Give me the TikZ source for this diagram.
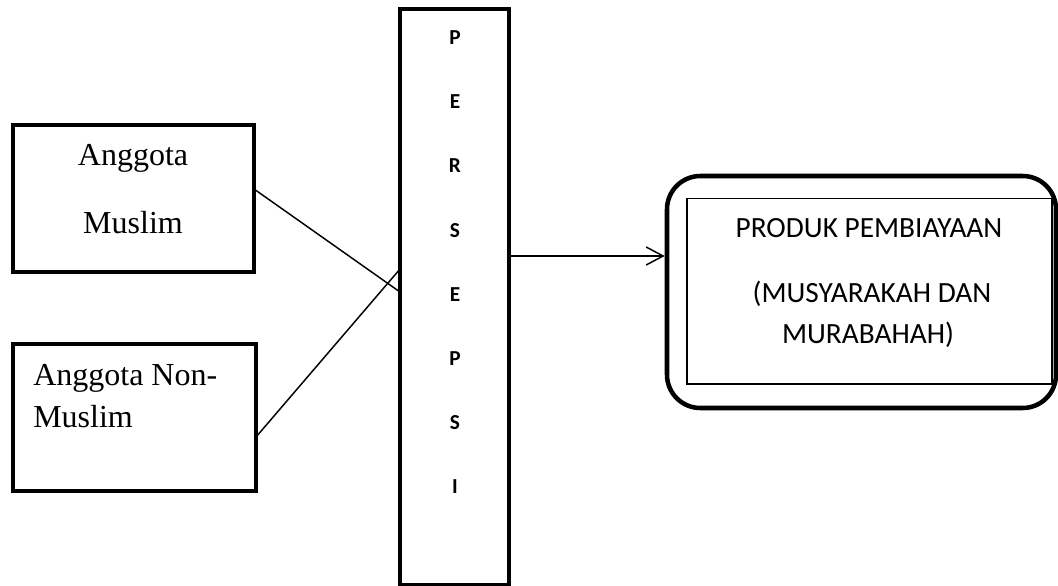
\documentclass[tikz,border=0pt]{standalone}
\usepackage{fontspec}
\setmainfont{Liberation Serif}
\newfontfamily\calib{Carlito}
\usetikzlibrary{arrows.meta}
\begin{document}
\begin{tikzpicture}[x=0.75pt,y=-0.75pt,
  thickbox/.style={draw,line width=2.3pt,inner sep=0pt},
  thinline/.style={line width=1.1pt},
  serif/.style={font=\fontsize{24}{28}\selectfont,inner sep=0pt},
  letter/.style={font=\calib\bfseries\fontsize{16}{18}\selectfont,inner sep=0pt},
  prodtext/.style={font=\calib\fontsize{22}{26}\selectfont,inner sep=0pt,anchor=base},
  arr/.style={line width=1.1pt,-{Straight Barb[length=12.75pt,width=13.5pt,line width=1.1pt]}}]
\useasboundingbox (0,0) rectangle (1058,586);
% left boxes
\node[thickbox,minimum width=180.75pt,minimum height=110.25pt] (muslim) at (133.5,198.5) {};
\node[thickbox,minimum width=182.25pt,minimum height=110.25pt] (nonmuslim) at (134.5,417.5) {};
\node[serif,anchor=base] (t1) at (133,165) {Anggota};
\node[serif,anchor=base] (t2) at (133,233) {Muslim};
\node[serif,anchor=base west] (t3) at (33,385) {Anggota Non-};
\node[serif,anchor=base west] (t4) at (33,427) {Muslim};
% persepsi box
\node[thickbox,minimum width=81.75pt,minimum height=432pt] (persepsi) at (454.5,297) {};
\foreach \l/\yy [count=\i] in {P/38,E/102,R/166,S/231,E/295,P/359,S/423,I/487}
  \node[letter] (L\i) at (455,\yy) {\l};
% product box
\node[draw,line width=3.4pt,rounded corners=25pt,minimum width=291.75pt,minimum height=174pt,inner sep=0pt] (outer) at (861.5,292) {};
\node[draw,line width=1.1pt,minimum width=273.75pt,minimum height=139pt,inner sep=0pt] (inner) at (869.5,291.25) {};
\node[prodtext] (p1) at (869,237) {PRODUK PEMBIAYAAN};
\node[prodtext] (p2) at (872,302) {(MUSYARAKAH DAN};
\node[prodtext] (p3) at (868,343) {MURABAHAH)};
% connectors
\coordinate (a1) at (254,189);
\coordinate (b1) at (400,292);
\coordinate (a2) at (256,437);
\coordinate (b2) at (400,269);
\draw[thinline] (a1) -- (b1);
\draw[thinline] (a2) -- (b2);
\coordinate (c1) at (509,256);
\draw[arr] (c1) -- (c1 -| outer.west);
\end{tikzpicture}
\end{document}
